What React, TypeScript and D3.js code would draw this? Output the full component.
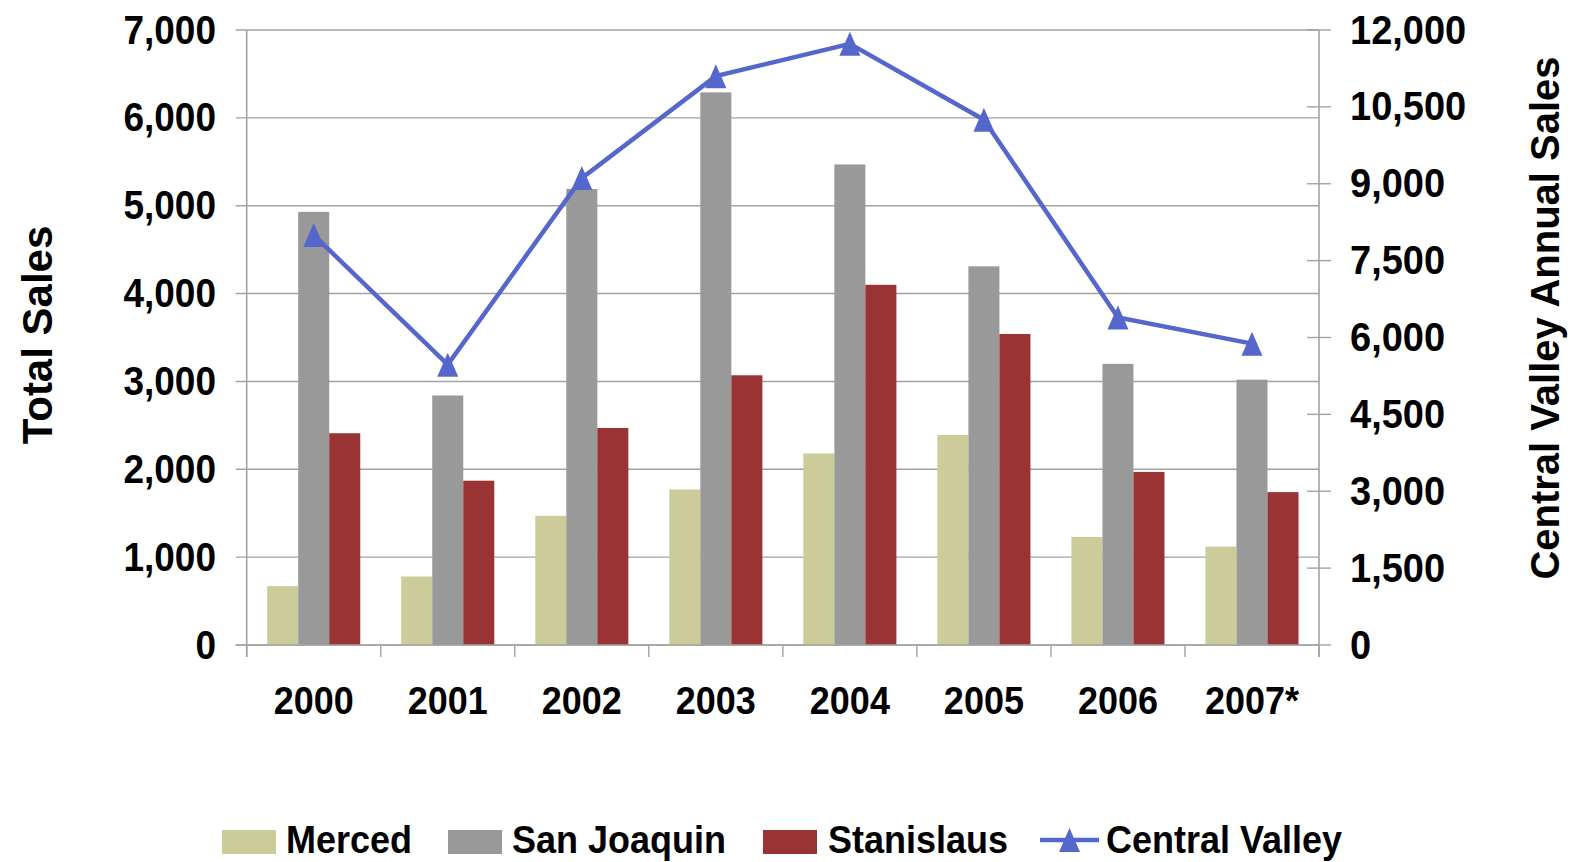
import React from "react";
import * as d3 from "d3";

const years = ["2000", "2001", "2002", "2003", "2004", "2005", "2006", "2007*"];
const merced = [670, 780, 1470, 1770, 2180, 2390, 1230, 1120];
const sanJoaquin = [4930, 2840, 5190, 6290, 5470, 4310, 3200, 3020];
const stanislaus = [2410, 1870, 2470, 3070, 4100, 3540, 1970, 1740];
const centralValley = [8000, 5470, 9110, 11100, 11730, 10250, 6390, 5880];
const leftTicks = [0, 1000, 2000, 3000, 4000, 5000, 6000, 7000];
const rightTicks = [0, 1500, 3000, 4500, 6000, 7500, 9000, 10500, 12000];

const barSeries = [
  { name: "Merced", values: merced, color: "#cccc9a" },
  { name: "San Joaquin", values: sanJoaquin, color: "#999999" },
  { name: "Stanislaus", values: stanislaus, color: "#993334" },
];
const lineColor = "#5566cc";
const gridColor = "#a3a3a3";

const W = 1578;
const H = 862;
const L = 246.7;
const R = 1319;
const T = 30;
const B = 645;

const FONT = "'Liberation Sans', Arial, Helvetica, sans-serif";
const SY = 1.09;

function Txt({ x, y, size, anchor, children, rotate }: any) {
  const tr = rotate
    ? `translate(${x},${y}) rotate(${rotate})`
    : `translate(${x},${y}) scale(1,${SY})`;
  return (
    <text
      transform={tr}
      fontFamily={FONT}
      fontWeight="bold"
      fontSize={size}
      textAnchor={anchor}
      fill="#000"
    >
      {children}
    </text>
  );
}

function tri(cx: number, cy: number, w: number, h: number) {
  return `M${cx},${cy - h / 2}L${cx + w / 2},${cy + h / 2}L${cx - w / 2},${cy + h / 2}Z`;
}

export default function App() {
  const x0 = d3.scaleBand<string>().domain(years).range([L, R]).padding(0);
  const x1 = d3
    .scaleBand<string>()
    .domain(barSeries.map((s) => s.name))
    .range([0, x0.bandwidth()])
    .paddingInner(0)
    .paddingOuter(0.66);
  const yL = d3.scaleLinear().domain([0, 7000]).range([B, T]);
  const yR = d3.scaleLinear().domain([0, 12000]).range([B, T]);
  const fmt = d3.format(",");

  const line = d3
    .line<number>()
    .x((_, i) => (x0(years[i]) as number) + x0.bandwidth() / 2)
    .y((d) => yR(d));

  const legendY = 840;

  return (
    <svg
      width={W}
      height={H}
      style={{ position: "absolute", left: 0, top: 0, background: "#fff" }}
    >
      <rect width={W} height={H} fill="#fff" />
      {/* gridlines */}
      {leftTicks.map((t) => (
        <line
          key={"g" + t}
          x1={L - 11}
          x2={R}
          y1={yL(t)}
          y2={yL(t)}
          stroke={gridColor}
          strokeWidth={1.4}
        />
      ))}
      {/* right ticks (cross) */}
      {rightTicks.map((t) => (
        <line
          key={"rt" + t}
          x1={t === 0 ? R : R - 12}
          x2={R + 12}
          y1={yR(t)}
          y2={yR(t)}
          stroke={gridColor}
          strokeWidth={1.4}
        />
      ))}
      {/* category ticks */}
      {[...years.map((y) => x0(y) as number), R].map((xv, i) => (
        <line
          key={"ct" + i}
          x1={xv}
          x2={xv}
          y1={B}
          y2={B + 12}
          stroke={gridColor}
          strokeWidth={1.4}
        />
      ))}
      {/* bars */}
      {barSeries.map((s) =>
        s.values.map((v, i) => (
          <rect
            key={s.name + i}
            x={(x0(years[i]) as number) + (x1(s.name) as number)}
            y={yL(v)}
            width={x1.bandwidth()}
            height={B - yL(v)}
            fill={s.color}
          />
        ))
      )}
      {/* axis lines */}
      <line x1={L} x2={L} y1={T} y2={B + 12} stroke={gridColor} strokeWidth={1.6} />
      <line x1={R} x2={R} y1={T} y2={B + 12} stroke={gridColor} strokeWidth={1.6} />
      <line x1={L - 11} x2={R} y1={B} y2={B} stroke={gridColor} strokeWidth={1.6} />
      {/* line series */}
      <path d={line(centralValley) || ""} fill="none" stroke={lineColor} strokeWidth={4.5} />
      {centralValley.map((v, i) => (
        <path
          key={"m" + i}
          d={tri((x0(years[i]) as number) + x0.bandwidth() / 2, yR(v), 21, 24)}
          fill={lineColor}
        />
      ))}
      {/* left tick labels */}
      {leftTicks.map((t) => (
        <Txt key={"ll" + t} x={216} y={yL(t) + 13.5} size={37} anchor="end">
          {fmt(t)}
        </Txt>
      ))}
      {/* right tick labels */}
      {rightTicks.map((t) => (
        <Txt key={"rl" + t} x={1350} y={yR(t) + 13.5} size={38} anchor="start">
          {fmt(t)}
        </Txt>
      ))}
      {/* year labels */}
      {years.map((y) => (
        <Txt
          key={"yl" + y}
          x={(x0(y) as number) + x0.bandwidth() / 2}
          y={714}
          size={36}
          anchor="middle"
        >
          {y}
        </Txt>
      ))}
      {/* axis titles */}
      <Txt x={52} y={335} size={42} anchor="middle" rotate={-90}>
        Total Sales
      </Txt>
      <Txt x={1559} y={318} size={40} anchor="middle" rotate={-90}>
        Central Valley Annual Sales
      </Txt>
      {/* legend */}
      {[
        { x: 222, tx: 286, name: "Merced", color: barSeries[0].color },
        { x: 448, tx: 512, name: "San Joaquin", color: barSeries[1].color },
        { x: 763, tx: 828, name: "Stanislaus", color: barSeries[2].color },
      ].map((l) => (
        <g key={l.name}>
          <rect x={l.x} y={legendY - 10} width={54} height={24} fill={l.color} />
          <Txt x={l.tx} y={legendY + 13} size={36} anchor="start">
            {l.name}
          </Txt>
        </g>
      ))}
      <line x1={1040} x2={1099} y1={legendY} y2={legendY} stroke={lineColor} strokeWidth={4.5} />
      <path d={tri(1069.5, legendY, 21, 24)} fill={lineColor} />
      <Txt x={1106} y={legendY + 13} size={36} anchor="start">
        Central Valley
      </Txt>
    </svg>
  );
}
